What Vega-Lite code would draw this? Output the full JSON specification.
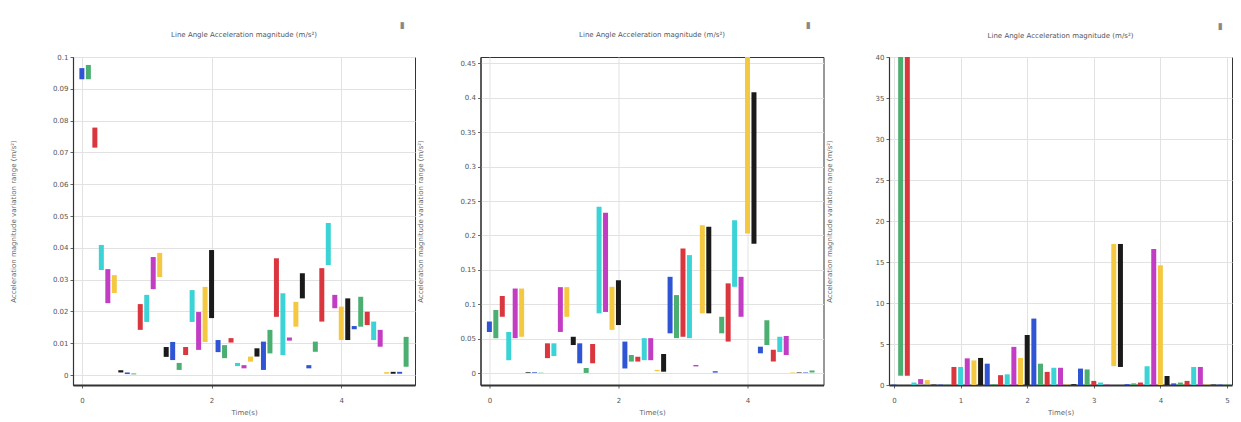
{
  "$schema": "https://vega.github.io/schema/vega-lite/v6.json",
  "autosize": {"type": "none"},
  "padding": {"left": 73, "top": 57, "right": 1168, "bottom": 365},
  "background": "white",
  "bounds": "flush",
  "spacing": 65.5,
  "config": {
    "font": "DejaVu Sans",
    "view": {"stroke": "#333333", "strokeWidth": 1},
    "axis": {
      "labelFont": "DejaVu Sans", "labelFontSize": 7, "labelColor": "#555555", "labelOverlap": false,
      "titleFont": "DejaVu Sans", "titleFontSize": 7, "titleFontWeight": "normal", "titleColor": "#666666",
      "gridColor": "#e2e2e2", "gridWidth": 1, "domainColor": "#333333", "domainWidth": 1.2,
      "tickColor": "#666666", "tickSize": 3
    },
    "axisY": {"labelPadding": 2, "titleX": -57, "titleY": 164},
    "axisX": {"labelPadding": 8, "titlePadding": 5, "domainWidth": 1.8},
    "title": {"font": "DejaVu Sans", "fontSize": 7, "fontWeight": "normal", "color": "#555555", "offset": -17, "frame": "group"}
  },
  "datasets": {
    "p1": [
      {"t":0.0,"s":"b","lo":0.093,"hi":0.0965},
      {"t":0.1,"s":"g","lo":0.093,"hi":0.0975},
      {"t":0.2,"s":"r","lo":0.0715,"hi":0.0778},
      {"t":0.3,"s":"c","lo":0.033,"hi":0.0409},
      {"t":0.4,"s":"m","lo":0.0226,"hi":0.0333},
      {"t":0.5,"s":"y","lo":0.0258,"hi":0.0314},
      {"t":0.6,"s":"k","lo":0.0008,"hi":0.0015},
      {"t":0.7,"s":"b","lo":0.0003,"hi":0.0008},
      {"t":0.8,"s":"g","lo":0.0002,"hi":0.0005},
      {"t":0.9,"s":"r","lo":0.0142,"hi":0.0223},
      {"t":1.0,"s":"c","lo":0.0167,"hi":0.0252},
      {"t":1.1,"s":"m","lo":0.027,"hi":0.0371},
      {"t":1.2,"s":"y","lo":0.0308,"hi":0.0384},
      {"t":1.3,"s":"k","lo":0.0057,"hi":0.0088},
      {"t":1.4,"s":"b","lo":0.0047,"hi":0.0104},
      {"t":1.5,"s":"g","lo":0.0016,"hi":0.0038},
      {"t":1.6,"s":"r","lo":0.0063,"hi":0.0088},
      {"t":1.7,"s":"c","lo":0.0167,"hi":0.0267},
      {"t":1.8,"s":"m","lo":0.0079,"hi":0.0198},
      {"t":1.9,"s":"y","lo":0.0104,"hi":0.0277},
      {"t":2.0,"s":"k","lo":0.0179,"hi":0.0393},
      {"t":2.1,"s":"b","lo":0.0072,"hi":0.011},
      {"t":2.2,"s":"g","lo":0.0053,"hi":0.0094},
      {"t":2.3,"s":"r","lo":0.0102,"hi":0.0116},
      {"t":2.4,"s":"c","lo":0.0028,"hi":0.0038},
      {"t":2.5,"s":"m","lo":0.0021,"hi":0.0031},
      {"t":2.6,"s":"y","lo":0.0042,"hi":0.0058},
      {"t":2.7,"s":"k","lo":0.0058,"hi":0.0084},
      {"t":2.8,"s":"b","lo":0.0016,"hi":0.0105},
      {"t":2.9,"s":"g","lo":0.0068,"hi":0.0142},
      {"t":3.0,"s":"r","lo":0.0183,"hi":0.0367},
      {"t":3.1,"s":"c","lo":0.0063,"hi":0.0257},
      {"t":3.2,"s":"m","lo":0.0108,"hi":0.0118},
      {"t":3.3,"s":"y","lo":0.0152,"hi":0.023},
      {"t":3.4,"s":"k","lo":0.0241,"hi":0.032},
      {"t":3.5,"s":"b","lo":0.0021,"hi":0.0031},
      {"t":3.6,"s":"g","lo":0.0073,"hi":0.0105},
      {"t":3.7,"s":"r","lo":0.0168,"hi":0.0336},
      {"t":3.8,"s":"c","lo":0.0346,"hi":0.0478},
      {"t":3.9,"s":"m","lo":0.021,"hi":0.0252},
      {"t":4.0,"s":"y","lo":0.011,"hi":0.0215},
      {"t":4.1,"s":"k","lo":0.011,"hi":0.0241},
      {"t":4.2,"s":"b","lo":0.0144,"hi":0.0154},
      {"t":4.3,"s":"g","lo":0.0152,"hi":0.0246},
      {"t":4.4,"s":"r","lo":0.0157,"hi":0.0199},
      {"t":4.5,"s":"c","lo":0.011,"hi":0.0168},
      {"t":4.6,"s":"m","lo":0.0089,"hi":0.0142},
      {"t":4.7,"s":"y","lo":0.0004,"hi":0.0009},
      {"t":4.8,"s":"k","lo":0.0004,"hi":0.001},
      {"t":4.9,"s":"b","lo":0.0004,"hi":0.001},
      {"t":5.0,"s":"g","lo":0.0026,"hi":0.012}
    ],
    "p2": [
      {"t":0.0,"s":"b","lo":0.060,"hi":0.075},
      {"t":0.1,"s":"g","lo":0.051,"hi":0.092},
      {"t":0.2,"s":"r","lo":0.082,"hi":0.112},
      {"t":0.3,"s":"c","lo":0.019,"hi":0.060},
      {"t":0.4,"s":"m","lo":0.051,"hi":0.123},
      {"t":0.5,"s":"y","lo":0.053,"hi":0.123},
      {"t":0.6,"s":"k","lo":0.0005,"hi":0.0015},
      {"t":0.7,"s":"b","lo":0.0005,"hi":0.0015},
      {"t":0.8,"s":"g","lo":0.0003,"hi":0.0008},
      {"t":0.9,"s":"r","lo":0.022,"hi":0.0435},
      {"t":1.0,"s":"c","lo":0.025,"hi":0.0435},
      {"t":1.1,"s":"m","lo":0.060,"hi":0.125},
      {"t":1.2,"s":"y","lo":0.082,"hi":0.125},
      {"t":1.3,"s":"k","lo":0.041,"hi":0.053},
      {"t":1.4,"s":"b","lo":0.0145,"hi":0.0435},
      {"t":1.5,"s":"g","lo":0.0005,"hi":0.0077},
      {"t":1.6,"s":"r","lo":0.0145,"hi":0.0425},
      {"t":1.7,"s":"c","lo":0.087,"hi":0.2415},
      {"t":1.8,"s":"m","lo":0.089,"hi":0.233},
      {"t":1.9,"s":"y","lo":0.063,"hi":0.1255},
      {"t":2.0,"s":"k","lo":0.070,"hi":0.135},
      {"t":2.1,"s":"b","lo":0.007,"hi":0.046},
      {"t":2.2,"s":"g","lo":0.017,"hi":0.0265},
      {"t":2.3,"s":"r","lo":0.017,"hi":0.024},
      {"t":2.4,"s":"c","lo":0.019,"hi":0.051},
      {"t":2.5,"s":"m","lo":0.019,"hi":0.051},
      {"t":2.6,"s":"y","lo":0.003,"hi":0.005},
      {"t":2.7,"s":"k","lo":0.0023,"hi":0.028},
      {"t":2.8,"s":"b","lo":0.058,"hi":0.140},
      {"t":2.9,"s":"g","lo":0.051,"hi":0.1135},
      {"t":3.0,"s":"r","lo":0.053,"hi":0.181},
      {"t":3.1,"s":"c","lo":0.051,"hi":0.1715},
      {"t":3.2,"s":"m","lo":0.010,"hi":0.012},
      {"t":3.3,"s":"y","lo":0.087,"hi":0.215},
      {"t":3.4,"s":"k","lo":0.087,"hi":0.2125},
      {"t":3.5,"s":"b","lo":0.001,"hi":0.003},
      {"t":3.6,"s":"g","lo":0.058,"hi":0.082},
      {"t":3.7,"s":"r","lo":0.046,"hi":0.1305},
      {"t":3.8,"s":"c","lo":0.1255,"hi":0.222},
      {"t":3.9,"s":"m","lo":0.082,"hi":0.140},
      {"t":4.0,"s":"y","lo":0.203,"hi":0.48},
      {"t":4.1,"s":"k","lo":0.188,"hi":0.408},
      {"t":4.2,"s":"b","lo":0.029,"hi":0.0386},
      {"t":4.3,"s":"g","lo":0.041,"hi":0.077},
      {"t":4.4,"s":"r","lo":0.017,"hi":0.034},
      {"t":4.5,"s":"c","lo":0.031,"hi":0.053},
      {"t":4.6,"s":"m","lo":0.0265,"hi":0.054},
      {"t":4.7,"s":"y","lo":0.0005,"hi":0.001},
      {"t":4.8,"s":"k","lo":0.0005,"hi":0.001},
      {"t":4.9,"s":"b","lo":0.0005,"hi":0.0012},
      {"t":5.0,"s":"g","lo":0.001,"hi":0.004}
    ],
    "p3": [
      {"t":0.0,"s":"b","lo":0,"hi":0.05},
      {"t":0.1,"s":"g","lo":1.12,"hi":45},
      {"t":0.2,"s":"r","lo":1.12,"hi":45},
      {"t":0.3,"s":"c","lo":0,"hi":0.3},
      {"t":0.4,"s":"m","lo":0.12,"hi":0.72},
      {"t":0.5,"s":"y","lo":0.1,"hi":0.6},
      {"t":0.6,"s":"k","lo":0,"hi":0.05},
      {"t":0.7,"s":"b","lo":0,"hi":0.05},
      {"t":0.8,"s":"g","lo":0,"hi":0.05},
      {"t":0.9,"s":"r","lo":0,"hi":2.2},
      {"t":1.0,"s":"c","lo":0,"hi":2.2},
      {"t":1.1,"s":"m","lo":0,"hi":3.25},
      {"t":1.2,"s":"y","lo":0,"hi":3.0},
      {"t":1.3,"s":"k","lo":0,"hi":3.3},
      {"t":1.4,"s":"b","lo":0,"hi":2.6},
      {"t":1.5,"s":"g","lo":0,"hi":0.1},
      {"t":1.6,"s":"r","lo":0,"hi":1.2},
      {"t":1.7,"s":"c","lo":0,"hi":1.3},
      {"t":1.8,"s":"m","lo":0,"hi":4.65},
      {"t":1.9,"s":"y","lo":0,"hi":3.3},
      {"t":2.0,"s":"k","lo":0,"hi":6.1},
      {"t":2.1,"s":"b","lo":0,"hi":8.1},
      {"t":2.2,"s":"g","lo":0,"hi":2.6},
      {"t":2.3,"s":"r","lo":0,"hi":1.6},
      {"t":2.4,"s":"c","lo":0,"hi":2.1},
      {"t":2.5,"s":"m","lo":0,"hi":2.1},
      {"t":2.6,"s":"y","lo":0,"hi":0.05},
      {"t":2.7,"s":"k","lo":0,"hi":0.1},
      {"t":2.8,"s":"b","lo":0,"hi":2.0},
      {"t":2.9,"s":"g","lo":0,"hi":1.9},
      {"t":3.0,"s":"r","lo":0,"hi":0.5},
      {"t":3.1,"s":"c","lo":0,"hi":0.3},
      {"t":3.2,"s":"m","lo":0,"hi":0.05},
      {"t":3.3,"s":"y","lo":2.3,"hi":17.2},
      {"t":3.4,"s":"k","lo":2.2,"hi":17.2},
      {"t":3.5,"s":"b","lo":0,"hi":0.1},
      {"t":3.6,"s":"g","lo":0,"hi":0.2},
      {"t":3.7,"s":"r","lo":0,"hi":0.3},
      {"t":3.8,"s":"c","lo":0,"hi":2.3},
      {"t":3.9,"s":"m","lo":0,"hi":16.6},
      {"t":4.0,"s":"y","lo":0,"hi":14.6},
      {"t":4.1,"s":"k","lo":0,"hi":1.1},
      {"t":4.2,"s":"b","lo":0,"hi":0.2},
      {"t":4.3,"s":"g","lo":0,"hi":0.3},
      {"t":4.4,"s":"r","lo":0,"hi":0.5},
      {"t":4.5,"s":"c","lo":0,"hi":2.2},
      {"t":4.6,"s":"m","lo":0,"hi":2.2},
      {"t":4.7,"s":"y","lo":0,"hi":0.05},
      {"t":4.8,"s":"k","lo":0,"hi":0.05},
      {"t":4.9,"s":"b","lo":0,"hi":0.05},
      {"t":5.0,"s":"g","lo":0,"hi":0.05}
    ]
  },
  "hconcat": [
    {
      "width": 342, "height": 328,
      "title": {"text": "Line Angle Acceleration magnitude (m/s²)"},
      "encoding": {
        "x": {"field": "t", "type": "quantitative", "scale": {"domain": [-0.06, 5.06], "nice": false, "zero": false},
              "axis": {"values": [0, 2, 4], "format": "d", "title": "Time(s)"}},
        "y": {"field": "lo", "type": "quantitative", "scale": {"domain": [-0.00314, 0.1], "nice": false, "zero": false},
              "axis": {"values": [0, 0.01, 0.02, 0.03, 0.04, 0.05, 0.06, 0.07, 0.08, 0.09, 0.1], "format": ".2~f", "title": "Acceleration magnitude variation range (m/s²)"}}
      },
      "layer": [
        {
          "data": {"name": "p1"},
          "mark": {"type": "bar", "width": 5, "clip": true},
          "encoding": {
            "y2": {"field": "hi"},
            "color": {"field": "s", "type": "nominal", "legend": null,
                      "scale": {"domain": ["b","g","r","c","m","y","k"], "range": ["#2f55d4","#4caf72","#d9363e","#3cd3d6","#c23dc4","#f5c842","#1a1a1a"]}}
          }
        },
        {
          "data": {"values": [{"t": 4.94, "lo": 0.11, "label": "▮"}]},
          "mark": {"type": "text", "clip": false, "fontSize": 9, "color": "#888888"},
          "encoding": {"text": {"field": "label"}}
        }
      ]
    },
    {
      "width": 343, "height": 328,
      "title": {"text": "Line Angle Acceleration magnitude (m/s²)"},
      "encoding": {
        "x": {"field": "t", "type": "quantitative", "scale": {"domain": [-0.06, 5.1], "nice": false, "zero": false},
              "axis": {"values": [0, 2, 4], "format": "d", "title": "Time(s)"}},
        "y": {"field": "lo", "type": "quantitative", "scale": {"domain": [-0.017, 0.459], "nice": false, "zero": false},
              "axis": {"values": [0, 0.05, 0.1, 0.15, 0.2, 0.25, 0.3, 0.35, 0.4, 0.45], "format": ".2~f", "title": "Acceleration magnitude variation range (m/s²)"}}
      },
      "layer": [
        {
          "data": {"name": "p2"},
          "mark": {"type": "bar", "width": 5, "clip": true},
          "encoding": {
            "y2": {"field": "hi"},
            "color": {"field": "s", "type": "nominal", "legend": null,
                      "scale": {"domain": ["b","g","r","c","m","y","k"], "range": ["#2f55d4","#4caf72","#d9363e","#3cd3d6","#c23dc4","#f5c842","#1a1a1a"]}}
          }
        },
        {
          "data": {"values": [{"t": 4.94, "lo": 0.505, "label": "▮"}]},
          "mark": {"type": "text", "clip": false, "fontSize": 9, "color": "#888888"},
          "encoding": {"text": {"field": "label"}}
        }
      ]
    },
    {
      "width": 343, "height": 328,
      "title": {"text": "Line Angle Acceleration magnitude (m/s²)"},
      "encoding": {
        "x": {"field": "t", "type": "quantitative", "scale": {"domain": [0, 5], "nice": false, "zero": false},
              "axis": {"values": [0, 1, 2, 3, 4, 5], "format": "d", "title": "Time(s)"}},
        "y": {"field": "lo", "type": "quantitative", "scale": {"domain": [0, 40], "nice": false, "zero": false},
              "axis": {"values": [0, 5, 10, 15, 20, 25, 30, 35, 40], "format": "d", "title": "Acceleration magnitude variation range (m/s²)"}}
      },
      "layer": [
        {
          "data": {"name": "p3"},
          "mark": {"type": "bar", "width": 5, "clip": true},
          "encoding": {
            "y2": {"field": "hi"},
            "color": {"field": "s", "type": "nominal", "legend": null,
                      "scale": {"domain": ["b","g","r","c","m","y","k"], "range": ["#2f55d4","#4caf72","#d9363e","#3cd3d6","#c23dc4","#f5c842","#1a1a1a"]}}
          }
        },
        {
          "data": {"values": [{"t": 4.9, "lo": 43.8, "label": "▮"}]},
          "mark": {"type": "text", "clip": false, "fontSize": 9, "color": "#888888"},
          "encoding": {"text": {"field": "label"}}
        }
      ]
    }
  ]
}
